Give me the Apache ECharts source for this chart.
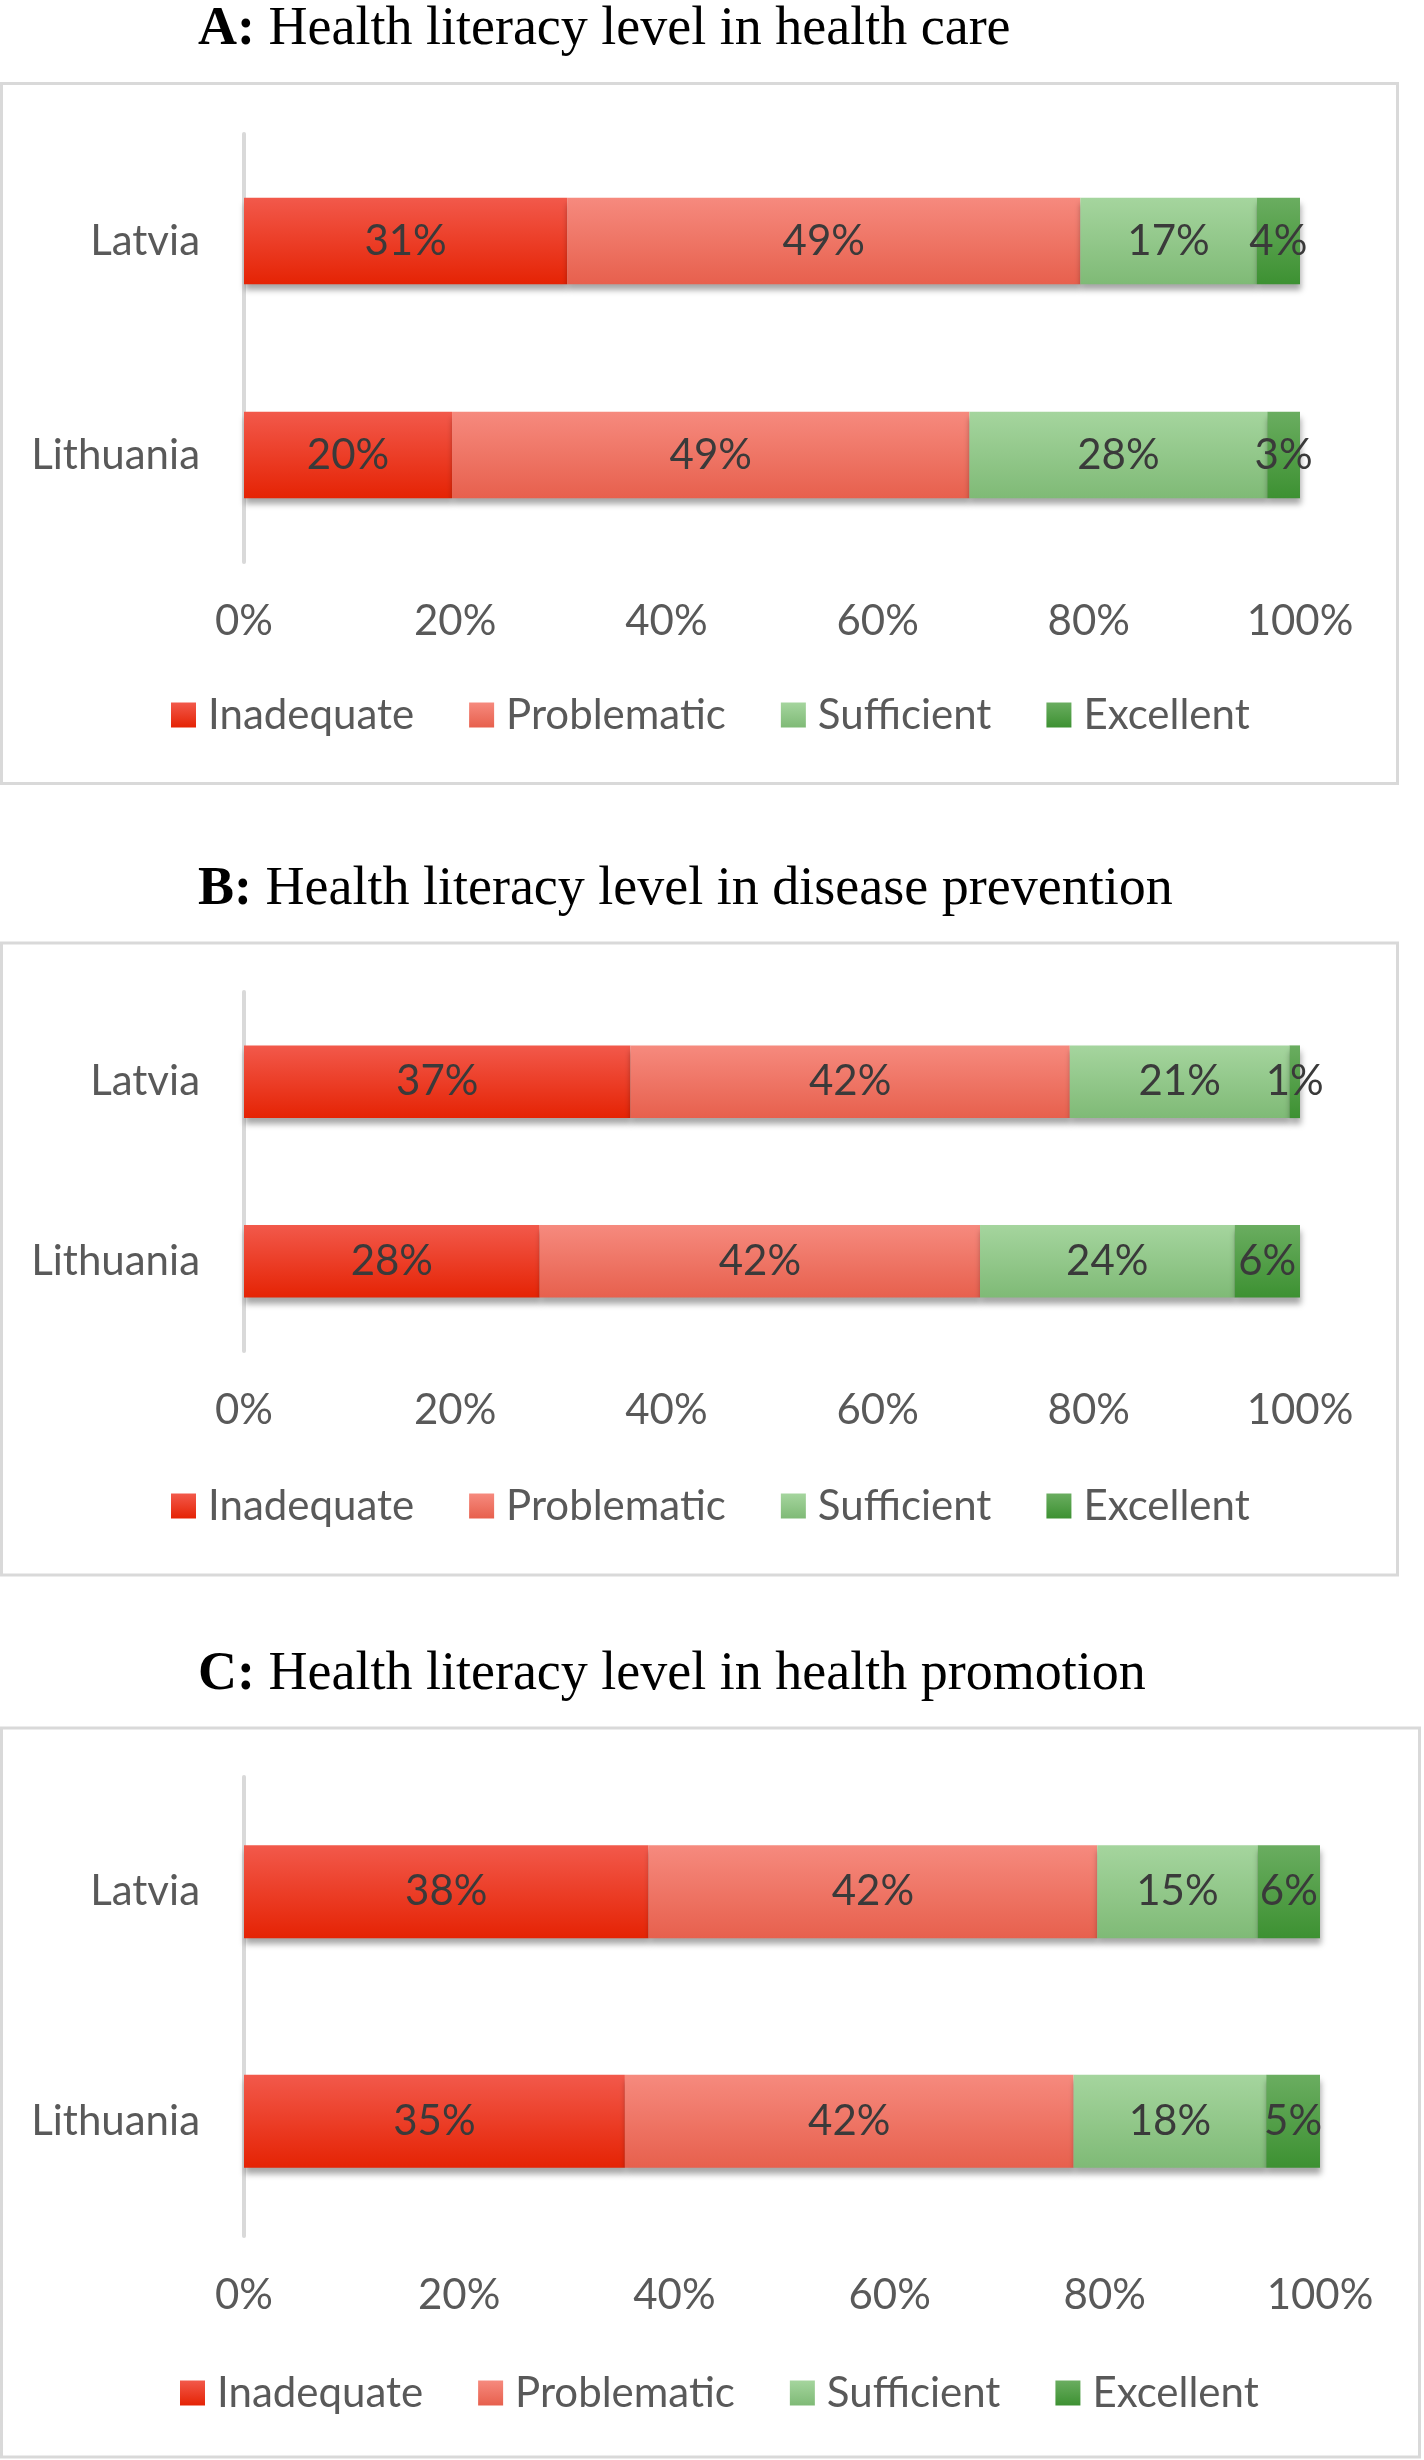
<!DOCTYPE html>
<html>
<head>
<meta charset="utf-8">
<script src="https://cdn.jsdelivr.net/npm/echarts@6/dist/echarts.min.js"></script>
<style>
html,body{margin:0;padding:0;background:#fff;}
#chart{width:1424px;height:2460px;}
</style>
</head>
<body>
<div id="chart"></div>
<script>
// ---------- data ----------
const categories = ['Latvia', 'Lithuania'];
const levels = ['Inadequate', 'Problematic', 'Sufficient', 'Excellent'];
const xTicks = [0, 20, 40, 60, 80, 100];

const panelTitles = [
  ['A:', ' Health literacy level in health care'],
  ['B:', ' Health literacy level in disease prevention'],
  ['C:', ' Health literacy level in health promotion']
];

// Panel A: health care (per category: Latvia, Lithuania)
const careInadequate  = [30.6, 19.7];
const careProblematic = [48.6, 49.0];
const careSufficient  = [16.7, 28.2];
const careExcellent   = [4.1, 3.1];

// Panel B: disease prevention
const prevInadequate  = [36.6, 28.0];
const prevProblematic = [41.6, 41.7];
const prevSufficient  = [20.8, 24.1];
const prevExcellent   = [1.0, 6.2];

// Panel C: health promotion
const promInadequate  = [37.6, 35.4];
const promProblematic = [41.7, 41.7];
const promSufficient  = [14.9, 17.9];
const promExcellent   = [5.8, 5.0];

const panelData = [
  [careInadequate, careProblematic, careSufficient, careExcellent],
  [prevInadequate, prevProblematic, prevSufficient, prevExcellent],
  [promInadequate, promProblematic, promSufficient, promExcellent]
];

// ---------- styles ----------
const SANS = 'Lato, "Open Sans", sans-serif';
const SERIF = '"Liberation Serif", "Times New Roman", serif';
const FS = 42;

function grad(top, bottom) {
  return new echarts.graphic.LinearGradient(0, 0, 0, 1, [
    {offset: 0, color: top}, {offset: 1, color: bottom}
  ]);
}
const levelColors = [
  ['#f2594b', '#e52304'],
  ['#f68a7e', '#e7604d'],
  ['#a5d59e', '#7fba76'],
  ['#6aad60', '#3d9132']
];

// layout per panel
const layout = [
  {grid: {left: 244, width: 1056, top: 134, height: 428}, titleCy: 30, legendCy: 715, legendLeft: 171,
   box: {x: 1.5, y: 83.5, width: 1396, height: 700}},
  {grid: {left: 244, width: 1056, top: 992, height: 359}, titleCy: 890, legendCy: 1506, legendLeft: 171,
   box: {x: 1.5, y: 943, width: 1396, height: 632}},
  {grid: {left: 244, width: 1076, top: 1777, height: 459}, titleCy: 1675, legendCy: 2393, legendLeft: 180,
   box: {x: 1.5, y: 1728, width: 1418, height: 729}}
];

const grids = [], xAxes = [], yAxes = [], series = [], titles = [], legends = [], graphics = [];

layout.forEach((L, p) => {
  grids.push(Object.assign({containLabel: false}, L.grid));
  xAxes.push({
    gridIndex: p, type: 'value', min: xTicks[0], max: xTicks[xTicks.length - 1],
    interval: xTicks[1] - xTicks[0],
    axisLine: {show: false}, axisTick: {show: false}, splitLine: {show: false},
    axisLabel: {formatter: '{value}%', color: '#595959', fontSize: FS, fontFamily: SANS, margin: 38}
  });
  yAxes.push({
    gridIndex: p, type: 'category', data: categories, inverse: true,
    axisLine: {show: true, lineStyle: {color: '#d9d9d9', width: 4}},
    axisTick: {show: false}, splitLine: {show: false},
    axisLabel: {color: '#595959', fontSize: FS, fontFamily: SANS, margin: 44}
  });
  levels.forEach((name, k) => {
    series.push({
      name: name, type: 'bar', stack: 'panel' + p,
      xAxisIndex: p, yAxisIndex: p,
      barWidth: '40.5%',
      data: panelData[p][k],
      itemStyle: {
        color: grad(levelColors[k][0], levelColors[k][1]),
        shadowColor: 'rgba(0,0,0,0.35)', shadowBlur: 6, shadowOffsetY: 6, shadowOffsetX: 1
      },
      label: {
        show: true, position: 'inside', color: '#3a3a3a', fontSize: FS, fontFamily: SANS,
        formatter: (prm) => Math.round(prm.value) + '%'
      },
      emphasis: {disabled: true}
    });
  });
  titles.push({
    text: '{b|' + panelTitles[p][0] + '}' + panelTitles[p][1],
    left: 198, top: L.titleCy - 27, padding: 0,
    textStyle: {
      fontFamily: SERIF, fontSize: 54, fontWeight: 'normal', color: '#000', lineHeight: 54,
      rich: {b: {fontFamily: SERIF, fontSize: 54, fontWeight: 'bold', color: '#000', lineHeight: 54}}
    }
  });
  legends.push({
    data: levels, left: L.legendLeft, top: L.legendCy - 21, padding: 0,
    itemWidth: 25, itemHeight: 25, itemGap: 55, icon: 'rect',
    textStyle: {color: '#595959', fontSize: FS, fontFamily: SANS, lineHeight: 42, padding: [0, 0, 0, 7]},
    selectedMode: false
  });
  graphics.push({
    type: 'rect', silent: true, z: -1,
    shape: L.box,
    style: {fill: null, stroke: '#d9d9d9', lineWidth: 3}
  });
});

const chart = echarts.init(document.getElementById('chart'), null, {renderer: 'canvas'});
chart.setOption({
  animation: false,
  backgroundColor: '#ffffff',
  title: titles,
  legend: legends,
  grid: grids,
  xAxis: xAxes,
  yAxis: yAxes,
  series: series,
  graphic: graphics
});
</script>
</body>
</html>
